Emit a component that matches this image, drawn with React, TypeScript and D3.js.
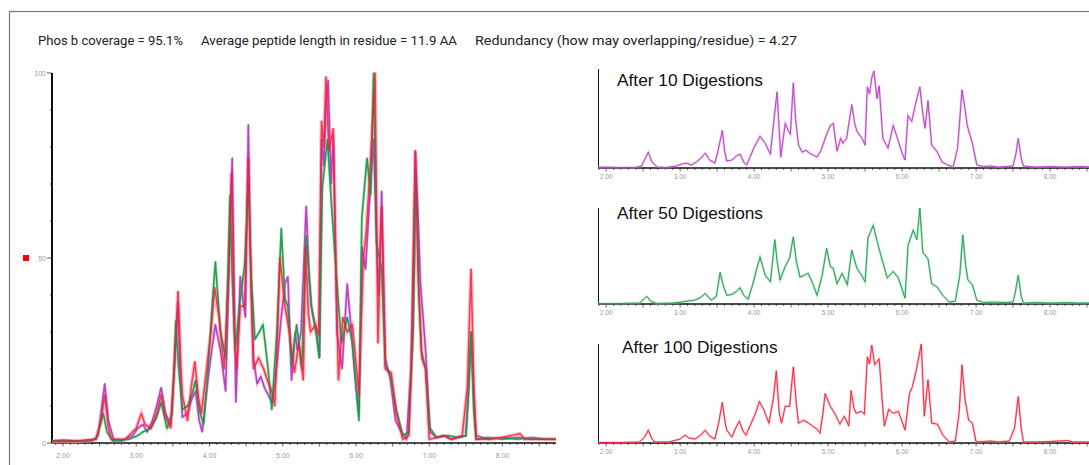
import React from "react";
import * as d3 from "d3";

// ---------- DATA ----------
const headerTexts = [
  "Phos b coverage = 95.1%",
  "Average peptide length in residue = 11.9 AA",
  "Redundancy (how may overlapping/residue) = 4.27",
];
const panelTitles = ["After 10 Digestions", "After 50 Digestions", "After 100 Digestions"];
const xTickLabels = [2, 3, 4, 5, 6, 7, 8];
const yTickLabels = [0, 50, 100];

// retention time (min), relative intensity (%)
const purple10: [number, number][] = [
  [1.85,0.5],[2.0,0.8],[2.2,0.5],[2.4,0.6],[2.48,2],[2.53,10],[2.57,16],[2.62,6],[2.69,1],[2.8,0.5],[2.95,2],[3.02,4],[3.09,5],[3.15,3],[3.22,6],[3.28,10],[3.34,15],[3.4,8],[3.47,5],[3.52,20],[3.57,38],[3.6,18],[3.63,7],[3.7,8],[3.76,12],[3.81,14],[3.86,6],[3.9,3],[3.95,12],[3.99,19],[4.03,25],[4.08,32],[4.15,25],[4.22,14],[4.27,50],[4.31,77],[4.36,11],[4.42,45],[4.46,38],[4.49,34],[4.53,86],[4.56,50],[4.6,23],[4.65,16],[4.7,18],[4.75,15],[4.8,13],[4.85,11],[4.9,17],[4.98,34],[5.03,43],[5.07,45],[5.12,17],[5.17,30],[5.2,25],[5.25,30],[5.32,64],[5.36,45],[5.39,37],[5.46,30],[5.5,23],[5.53,82],[5.56,75],[5.59,91],[5.62,98],[5.66,70],[5.69,83],[5.74,30],[5.81,20],[5.88,43],[5.95,27],[6.0,15],[6.04,8],[6.08,53],[6.13,47],[6.18,64],[6.24,82],[6.28,55],[6.31,40],[6.35,68],[6.4,23],[6.47,17],[6.54,6],[6.62,3],[6.69,1],[6.75,20],[6.81,79],[6.85,60],[6.88,43],[6.95,25],[7.01,3],[7.1,1.5],[7.2,2],[7.3,1],[7.4,1.5],[7.5,2],[7.54,15],[7.57,30],[7.61,10],[7.64,2],[7.8,1],[8.0,1.5],[8.2,1],[8.4,1.5],[8.6,1],[8.8,1],
];
const green50: [number, number][] = [
  [1.85,0.5],[2.2,0.5],[2.45,1],[2.51,5],[2.55,8],[2.6,3],[2.68,0.5],[2.9,1],[3.02,2],[3.09,3],[3.2,4],[3.28,7],[3.34,11],[3.42,4],[3.49,8],[3.54,33],[3.58,20],[3.63,9],[3.7,10],[3.76,13],[3.81,17],[3.86,9],[3.92,5],[3.98,20],[4.04,38],[4.08,49],[4.12,38],[4.15,30],[4.22,23],[4.28,67],[4.31,45],[4.35,25],[4.42,39],[4.48,48],[4.53,70],[4.57,45],[4.62,28],[4.68,30],[4.73,32],[4.8,20],[4.85,9],[4.92,30],[4.98,58],[5.03,39],[5.07,37],[5.12,21],[5.19,32],[5.26,20],[5.32,56],[5.39,37],[5.46,29],[5.5,23],[5.54,69],[5.61,82],[5.67,63],[5.73,46],[5.8,27],[5.88,34],[5.95,27],[6.04,6],[6.08,61],[6.15,77],[6.2,67],[6.24,100],[6.28,54],[6.35,47],[6.4,21],[6.47,18],[6.55,9],[6.64,2],[6.72,3],[6.78,30],[6.82,72],[6.86,40],[6.89,25],[6.95,20],[7.01,4],[7.1,1.5],[7.25,2],[7.4,1.5],[7.5,2],[7.53,12],[7.57,30],[7.61,8],[7.64,1],[7.8,1.5],[8.0,1],[8.2,1.5],[8.4,1],[8.6,1],[8.8,1],
];
const red100: [number, number][] = [
  [1.85,0.5],[2.2,0.5],[2.45,1],[2.52,6],[2.57,13],[2.62,4],[2.66,1],[2.85,1],[3.0,4],[3.07,8],[3.12,5],[3.2,4],[3.28,8],[3.34,13],[3.4,7],[3.47,4],[3.52,20],[3.57,41],[3.61,20],[3.63,13],[3.7,6],[3.75,15],[3.8,22],[3.85,12],[3.89,8],[3.96,20],[4.02,30],[4.07,42],[4.13,34],[4.2,20],[4.26,45],[4.3,73],[4.34,30],[4.37,20],[4.42,37],[4.48,37],[4.53,77],[4.57,40],[4.6,20],[4.67,23],[4.74,20],[4.79,17],[4.85,14],[4.89,10],[4.93,30],[4.96,50],[5.03,37],[5.09,30],[5.16,19],[5.22,27],[5.28,17],[5.31,53],[5.35,35],[5.38,30],[5.45,32],[5.49,29],[5.53,87],[5.56,80],[5.59,99],[5.63,79],[5.69,85],[5.73,44],[5.76,17],[5.82,34],[5.88,30],[5.95,32],[6.04,13],[6.1,50],[6.14,57],[6.19,73],[6.26,100],[6.3,27],[6.35,64],[6.4,20],[6.48,19],[6.55,8],[6.64,1],[6.72,2],[6.77,30],[6.81,79],[6.85,44],[6.9,23],[6.95,20],[7.0,1],[7.1,1.5],[7.2,2],[7.3,1],[7.45,2],[7.52,15],[7.57,47],[7.61,15],[7.64,1],[7.8,1],[8.0,1.5],[8.24,2.5],[8.3,1],[8.5,1],[8.8,1],
];

const seriesList = [
  { data: purple10, color: "#b43cc0", light: "#dc8ee0" },
  { data: green50, color: "#1e9a48", light: "#7fd09a" },
  { data: red100, color: "#f41c34", light: "#ff8a96" },
];

// ---------- LAYOUT ----------
const W = 1089;
const H = 465;
const mainBox = { x0: 52, x1: 556, yTop: 73, yZero: 443, dom: [1.85, 8.73] as [number, number] };
const panelBoxes = [
  { yTop: 69, yZero: 168 },
  { yTop: 208, yZero: 304 },
  { yTop: 344, yZero: 443 },
];
const panelX = { x0: 598, x1: 1110, dom: [1.89, 8.81] as [number, number] };
const headerSlots = [
  { x: 38, w: 145 },
  { x: 201, w: 256 },
  { x: 475, w: 322 },
];

const minorTicks = d3.range(19, 88).map((v) => v / 10);

function Axes({ x, y, x0, x1, yTop, yZero, labelDy, small }: any) {
  return (
    <g>
      {d3.range(0, 101, 10).map((v) => (
        <line key={"yt" + v} x1={x0 - (v % 50 === 0 ? 5 : 2)} x2={x0} y1={y(v)} y2={y(v)} stroke="#333" strokeWidth={0.8} />
      ))}
      {yTickLabels.map((v) => (
        <text key={"yl" + v} x={x0 - 6} y={y(v) + 2.5} textAnchor="end" fontSize={small ? 6.5 : 7} fill="#9a9a9a" fontFamily="Liberation Sans, Arial, sans-serif">
          {v}
        </text>
      ))}
      {minorTicks.map((t) => {
        const major = Math.abs(t * 2 - Math.round(t * 2)) < 1e-6;
        return <line key={"xt" + t} x1={x(t)} x2={x(t)} y1={yZero} y2={yZero + (major ? 3.5 : 2)} stroke="#444" strokeWidth={0.8} />;
      })}
      {xTickLabels.map((t) => (
        <text key={"xl" + t} x={x(t)} y={yZero + labelDy} textAnchor="middle" fontSize={small ? 6.5 : 7} fill="#9a9a9a" fontFamily="Liberation Sans, Arial, sans-serif">
          {t.toFixed(2)}
        </text>
      ))}
      <line x1={x0} x2={x0} y1={yTop} y2={yZero} stroke="#111" strokeWidth={2} />
      <line x1={x0} x2={x1} y1={yZero} y2={yZero} stroke="#111" strokeWidth={1.6} />
    </g>
  );
}

export default function App() {
  const mx = d3.scaleLinear().domain(mainBox.dom).range([mainBox.x0, mainBox.x1]);
  const my = d3.scaleLinear().domain([0, 100]).range([mainBox.yZero, mainBox.yTop]);
  const mline = d3.line<[number, number]>().x((d) => mx(d[0])).y((d) => my(d[1]));
  const px = d3.scaleLinear().domain(panelX.dom).range([panelX.x0, panelX.x1]);

  return (
    <svg width={W} height={H} style={{ position: "absolute", left: 0, top: 0, background: "#fff" }}>
      <defs>
        <clipPath id="mainClip">
          <rect x={mainBox.x0} y={mainBox.yTop - 5} width={mainBox.x1 - mainBox.x0} height={mainBox.yZero - mainBox.yTop + 6} />
        </clipPath>
        <clipPath id="panelClip">
          <rect x={panelX.x0} y={0} width={W - panelX.x0} height={H} />
        </clipPath>
      </defs>
      <rect x={9.5} y={11.5} width={1200} height={600} fill="none" stroke="#7a7a7a" strokeWidth={1.2} />

      <g fontFamily="'Roboto', 'Liberation Sans', sans-serif" fontSize={13} fill="#222">
        {headerTexts.map((t, i) => (
          <text key={"h" + i} x={headerSlots[i].x} y={45} textLength={headerSlots[i].w} lengthAdjust="spacingAndGlyphs">
            {t}
          </text>
        ))}
      </g>

      {/* main overlay chart */}
      <rect x={23} y={my(50) - 3} width={6} height={6} fill="#ff0000" />
      <Axes x={mx} y={my} x0={mainBox.x0} x1={mainBox.x1} yTop={mainBox.yTop} yZero={mainBox.yZero} labelDy={15} />
      <g clipPath="url(#mainClip)" fill="none">
        {seriesList.map((s, i) => (
          <path key={"mh" + i} d={mline(s.data) || ""} stroke={s.light} strokeWidth={i === 2 ? 4 : 3} opacity={0.5} />
        ))}
        {seriesList.map((s, i) => (
          <path key={"m" + i} d={mline(s.data) || ""} stroke={s.color} strokeWidth={1.6} opacity={i === 2 ? 0.8 : 0.95} strokeLinejoin="round" />
        ))}
      </g>

      {/* right panels */}
      {panelBoxes.map((b, i) => {
        const py = d3.scaleLinear().domain([0, 100]).range([b.yZero, b.yTop]);
        const pl = d3.line<[number, number]>().x((d) => px(d[0])).y((d) => py(d[1]));
        const s = seriesList[i];
        return (
          <g key={"p" + i}>
            <g clipPath="url(#panelClip)">
              <Axes x={px} y={py} x0={panelX.x0} x1={panelX.x1} yTop={b.yTop} yZero={b.yZero} labelDy={11} small />
              <path d={pl(s.data) || ""} fill="none" stroke={s.light} strokeWidth={2.2} opacity={0.6} />
              <path d={pl(s.data) || ""} fill="none" stroke={s.color} strokeWidth={1} opacity={0.9} />
            </g>
            <text x={i === 2 ? 622 : 617} y={b.yTop + (i === 2 ? 9 : i === 1 ? 11 : 17)} fontFamily="'Liberation Sans', Arial, sans-serif" fontSize={17.3} fill="#111">
              {panelTitles[i]}
            </text>
          </g>
        );
      })}
    </svg>
  );
}
